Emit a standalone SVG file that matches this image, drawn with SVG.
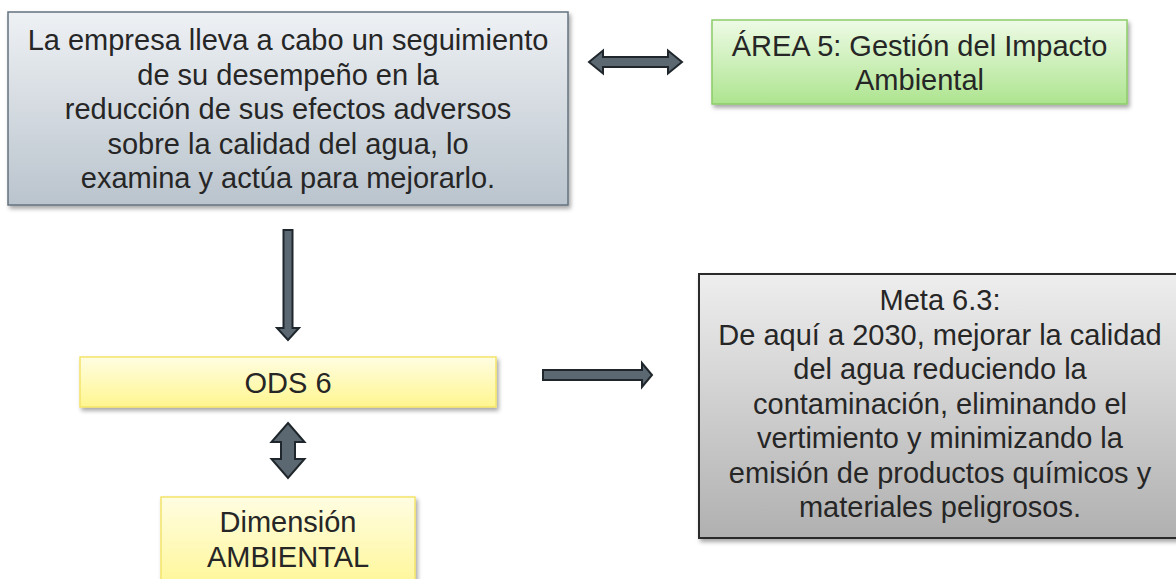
<svg xmlns="http://www.w3.org/2000/svg" width="1176" height="579" viewBox="0 0 1176 579">
  <defs>
    <linearGradient id="gBlue" x1="0" y1="0" x2="0" y2="1">
      <stop offset="0" stop-color="#eef1f4"/>
      <stop offset="1" stop-color="#bac4cd"/>
    </linearGradient>
    <linearGradient id="gGreen" x1="0" y1="0" x2="0" y2="1">
      <stop offset="0" stop-color="#eefbe6"/>
      <stop offset="1" stop-color="#ade48f"/>
    </linearGradient>
    <linearGradient id="gYellow" x1="0" y1="0" x2="0" y2="1">
      <stop offset="0" stop-color="#fffde2"/>
      <stop offset="1" stop-color="#fff68f"/>
    </linearGradient>
    <linearGradient id="gGray" x1="0" y1="0" x2="0" y2="1">
      <stop offset="0" stop-color="#eeeeee"/>
      <stop offset="1" stop-color="#b0b0b0"/>
    </linearGradient>
    <filter id="shadow" x="-5%" y="-5%" width="115%" height="120%">
      <feDropShadow dx="2" dy="3" stdDeviation="2" flood-color="#000" flood-opacity="0.35"/>
    </filter>
    <style>
      text { font-family: "Liberation Sans", Arial, sans-serif; font-size: 29px; fill: #262626; text-anchor: middle; }
      .arrow { fill: #5b6771; stroke: #1f272c; stroke-width: 2; stroke-linejoin: miter; }
    </style>
  </defs>

  <g id="node-empresa">
    <rect x="8" y="12" width="560" height="193" fill="url(#gBlue)" stroke="#63727f" stroke-width="1.5" filter="url(#shadow)"/>
    <text x="288" y="50">La empresa lleva a cabo un seguimiento</text>
    <text x="288" y="84.5">de su desempeño en la</text>
    <text x="288" y="119">reducción de sus efectos adversos</text>
    <text x="288" y="153.5">sobre la calidad del agua, lo</text>
    <text x="288" y="188">examina y actúa para mejorarlo.</text>
  </g>

  <g id="node-area5">
    <rect x="712" y="20" width="415" height="84" fill="url(#gGreen)" stroke="#8ccc68" stroke-width="1.5" filter="url(#shadow)"/>
    <text x="919.5" y="56">ÁREA 5: Gestión del Impacto</text>
    <text x="919.5" y="90">Ambiental</text>
  </g>

  <g id="node-ods6">
    <rect x="80" y="357" width="416" height="50" fill="url(#gYellow)" stroke="#f5e46a" stroke-width="1.5" filter="url(#shadow)"/>
    <text x="288" y="393">ODS 6</text>
  </g>

  <g id="node-dimension">
    <rect x="161" y="497" width="254" height="100" fill="url(#gYellow)" stroke="#f5e46a" stroke-width="1.5" filter="url(#shadow)"/>
    <text x="288" y="532">Dimensión</text>
    <text x="288" y="567">AMBIENTAL</text>
  </g>

  <g id="node-meta">
    <rect x="699" y="274" width="485" height="264" fill="url(#gGray)" stroke="#2b2b2b" stroke-width="2" filter="url(#shadow)"/>
    <text x="940" y="310">Meta 6.3:</text>
    <text x="940" y="344.5">De aquí a 2030, mejorar la calidad</text>
    <text x="940" y="379">del agua reduciendo la</text>
    <text x="940" y="413.5">contaminación, eliminando el</text>
    <text x="940" y="448">vertimiento y minimizando la</text>
    <text x="940" y="482.5">emisión de productos químicos y</text>
    <text x="940" y="517">materiales peligrosos.</text>
  </g>

  <g id="connectors">
    <polygon class="arrow" points="589,62 603,50.5 603,57 668,57 668,50.5 682,62 668,73.5 668,67 603,67 603,73.5"/>
    <polygon class="arrow" points="283.5,230 292.5,230 292.5,328 299,328 288,340 277,328 283.5,328"/>
    <polygon class="arrow" points="288,423 304.5,442 295,442 295,459 304.5,459 288,478 271.5,459 281,459 281,442 271.5,442"/>
    <polygon class="arrow" points="543,370 642,370 642,363 652,375 642,387 642,380 543,380"/>
  </g>
</svg>
